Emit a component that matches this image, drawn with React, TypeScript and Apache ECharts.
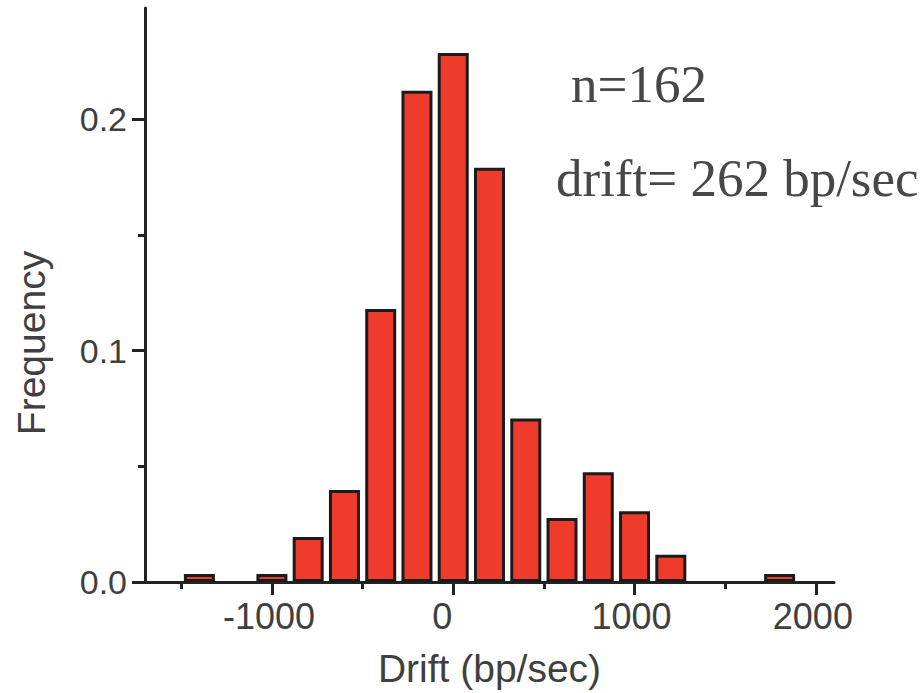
import React, { useEffect, useRef } from "react";
import * as echarts from "echarts";

// Histogram bins (bin centres, bp/sec) and their frequencies
const binCenters = [-1400, -1200, -1000, -800, -600, -400, -200, 0, 200, 400, 600, 800, 1000, 1200, 1400, 1600, 1800];
const frequencies = [0.0035, 0, 0.0035, 0.0194, 0.0398, 0.118, 0.2122, 0.2286, 0.179, 0.0706, 0.0276, 0.0474, 0.0306, 0.0118, 0, 0, 0.0035];

// Axis ticks / labels
const xMajorTicks = [-1000, 0, 1000, 2000];
const xMinorTicks = [-1500, -500, 500, 1500];
const yMajorTicks = [0, 0.1, 0.2];
const yMinorTicks = [0.05, 0.15];

const xTitle = "Drift (bp/sec)";
const yTitle = "Frequency";
const annotations = ["n=162", "drift= 262 bp/sec"];

const AXIS_COLOR = "#222222";
const LABEL_COLOR = "#404040";
const SANS = '"Liberation Sans", Arial, sans-serif';
const SERIF = '"Liberation Serif", "Times New Roman", serif';

export default function App() {
  const ref = useRef<HTMLDivElement>(null);

  useEffect(() => {
    if (!ref.current) return;
    const chart = echarts.init(ref.current, undefined, { renderer: "svg" });
    const xMin = -1700;
    const xMax = 2100;
    const yMin = 0;
    const yMax = 0.248;

    const barData = binCenters
      .map((c, i) => [c, frequencies[i]])
      .filter((d) => d[1] > 0);

    const option: any = {
      animation: false,
      backgroundColor: "#ffffff",
      grid: { left: 145, top: 8, width: 689, height: 576, containLabel: false },
      xAxis: [
        {
          type: "value",
          min: xMin,
          max: xMax,
          position: "bottom",
          name: xTitle,
          nameLocation: "middle",
          nameGap: 67,
          nameTextStyle: { fontFamily: SANS, fontSize: 39, color: LABEL_COLOR },
          splitLine: { show: false },
          axisLine: { show: true, onZero: false, lineStyle: { color: AXIS_COLOR, width: 3 } },
          axisTick: {
            show: true,
            customValues: xMajorTicks,
            length: 13,
            lineStyle: { color: AXIS_COLOR, width: 3 },
          },
          axisLabel: {
            show: true,
            customValues: xMajorTicks,
            formatter: (v: number) => (v === 0 ? "{z|0}" : "{n|" + String(v) + "}"),
            margin: 16,
            fontFamily: SANS,
            fontSize: 36,
            color: LABEL_COLOR,
            rich: {
              z: { fontFamily: SANS, fontSize: 36, color: LABEL_COLOR, padding: [0, 22, 0, 0] },
              n: { fontFamily: SANS, fontSize: 36, color: LABEL_COLOR, padding: [0, 6, 0, 0] },
            },
          },
        },
        {
          type: "value",
          min: xMin,
          max: xMax,
          position: "bottom",
          splitLine: { show: false },
          axisLine: { show: false, onZero: false },
          axisLabel: { show: false },
          axisTick: {
            show: true,
            customValues: xMinorTicks,
            length: 7,
            lineStyle: { color: AXIS_COLOR, width: 3 },
          },
        },
      ],
      yAxis: [
        {
          type: "value",
          min: yMin,
          max: yMax,
          position: "left",
          splitLine: { show: false },
          axisLine: { show: true, onZero: false, lineStyle: { color: AXIS_COLOR, width: 3 } },
          axisTick: {
            show: true,
            customValues: yMajorTicks,
            length: 13,
            lineStyle: { color: AXIS_COLOR, width: 3 },
          },
          axisLabel: {
            show: true,
            customValues: yMajorTicks,
            formatter: (v: number) => v.toFixed(1),
            margin: 18,
            fontFamily: SANS,
            fontSize: 34,
            color: LABEL_COLOR,
          },
        },
        {
          type: "value",
          min: yMin,
          max: yMax,
          position: "left",
          splitLine: { show: false },
          axisLine: { show: false, onZero: false },
          axisLabel: { show: false },
          axisTick: {
            show: true,
            customValues: yMinorTicks,
            length: 7,
            lineStyle: { color: AXIS_COLOR, width: 3 },
          },
        },
      ],
      series: [
        {
          type: "bar",
          xAxisIndex: 0,
          yAxisIndex: 0,
          barWidth: 31,
          data: barData,
          itemStyle: { color: "#EE3B2B", borderColor: "#1b1b1b", borderWidth: 3 },
          z: 1,
        },
      ],
      graphic: [
        {
          type: "text",
          x: 31,
          y: 343,
          rotation: Math.PI / 2,
          style: {
            text: yTitle,
            font: `39px ${SANS}`,
            fill: LABEL_COLOR,
            align: "center",
            verticalAlign: "middle",
          },
        },
        {
          type: "text",
          left: 571,
          top: 57,
          style: { text: annotations[0], font: `53px ${SERIF}`, fill: "#474747" },
        },
        {
          type: "text",
          left: 556,
          top: 151,
          style: { text: annotations[1], font: `53px ${SERIF}`, fill: "#474747" },
        },
      ],
    };
    chart.setOption(option);
    return () => chart.dispose();
  }, []);

  return (
    <div
      ref={ref}
      style={{ position: "absolute", left: 0, top: 0, width: 924, height: 693 }}
    />
  );
}
